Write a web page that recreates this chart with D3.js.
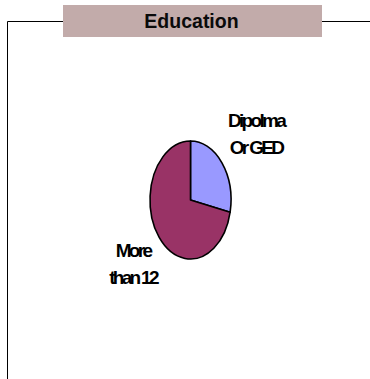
<!DOCTYPE html>
<html><head><meta charset="utf-8">
<script src="https://cdn.jsdelivr.net/npm/d3@7"></script>
<style>html,body{margin:0;padding:0;background:#fff;}svg{display:block;}</style>
</head><body>
<script>
const title = "Education";
const categories = ["Dipolma Or GED", "More than 12"];
const values = [28.3, 71.7];
const labelLines = [["Dipolma", "Or GED"], ["More", "than 12"]];
const colors = ["#9999FF", "#993366"];

const W = 370, H = 379;
const svg = d3.select("body").append("svg").attr("width", W).attr("height", H);

// frame
svg.append("path")
  .attr("d", "M7.5,379 V21.5 H63 M322,21.5 H370")
  .attr("fill", "none").attr("stroke", "#000").attr("stroke-width", 1);

// title box
svg.append("rect").attr("x", 63).attr("y", 5).attr("width", 259).attr("height", 32)
  .attr("fill", "#c2abaa");
svg.append("text").attr("x", 191.5).attr("y", 28)
  .attr("text-anchor", "middle")
  .attr("font-family", "Liberation Sans, Arial, sans-serif")
  .attr("font-weight", "bold").attr("font-size", 19.5)
  .attr("fill", "#0a0a0a").text(title);

// pie (elliptical)
const cx = 190.5, cy = 200, rx = 40.5, ry = 59, R = 100;
const pie = d3.pie().sort(null).value(d => d)(values);
const arc = d3.arc().innerRadius(0).outerRadius(R);
const g = svg.append("g").attr("transform", `translate(${cx},${cy}) scale(${rx / R},${ry / R})`);
g.selectAll("path").data(pie).join("path")
  .attr("d", arc)
  .attr("fill", (d, i) => colors[i])
  .attr("stroke", "#000").attr("stroke-width", 1.6)
  .attr("vector-effect", "non-scaling-stroke")
  .attr("stroke-linejoin", "round");

// labels
const labelPos = [{x: 256, y: 127}, {x: 133, y: 257}];
labelLines.forEach((lines, i) => {
  const t = svg.append("text")
    .attr("text-anchor", "middle")
    .attr("font-family", "Liberation Sans, Arial, sans-serif")
    .attr("font-weight", "bold").attr("font-size", 19)
    .attr("letter-spacing", "-2.7px")
    .attr("fill", "#000");
  lines.forEach((ln, j) => {
    t.append("tspan").attr("x", labelPos[i].x).attr("y", labelPos[i].y + j * 26.5).text(ln);
  });
});
</script>
</body></html>
